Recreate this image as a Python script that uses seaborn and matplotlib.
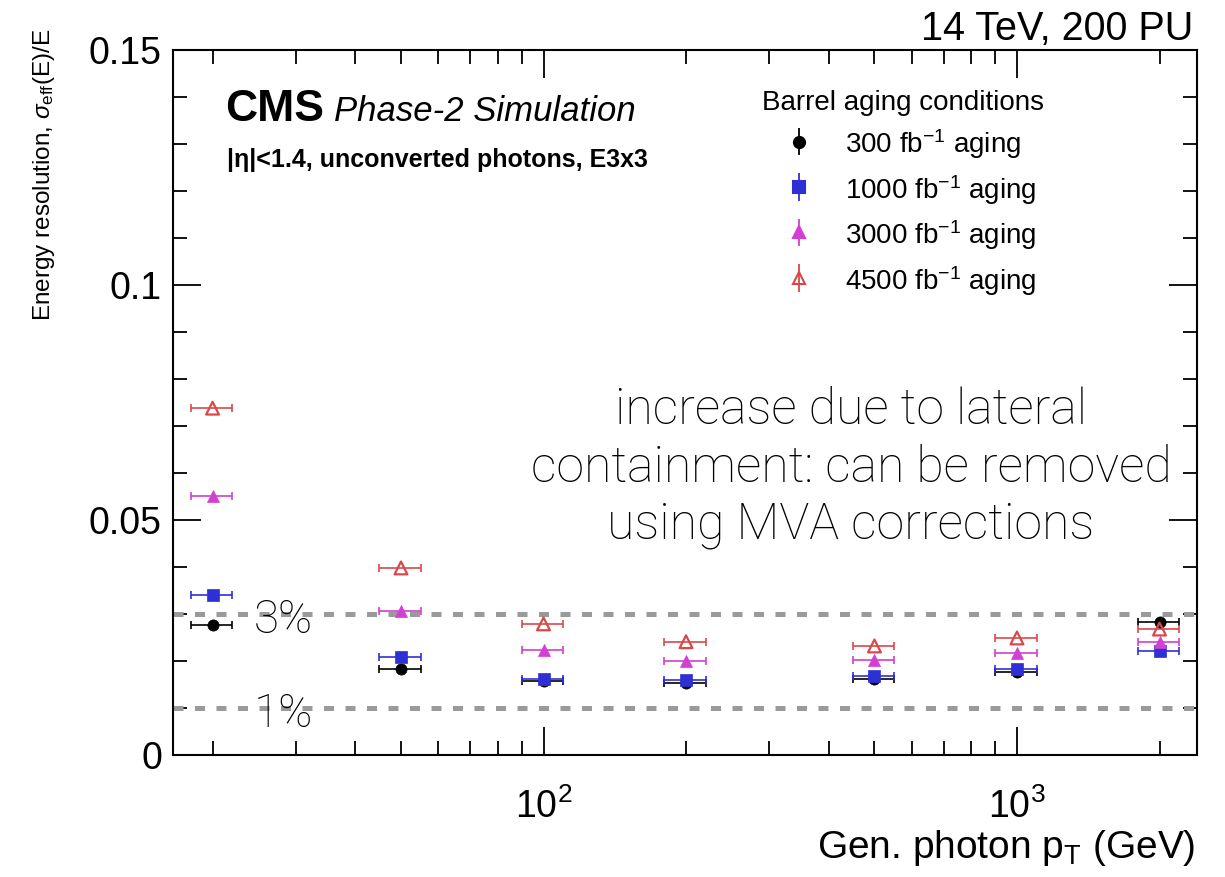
import numpy as np
import pandas as pd
import matplotlib
matplotlib.use("Agg")
import matplotlib.pyplot as plt
import seaborn as sns
from matplotlib.ticker import FixedLocator, NullFormatter, LogLocator

# ---------------- data ----------------
pt = [20, 50, 100, 200, 500, 1000, 2000]
pt_err = [2, 5, 10, 20, 50, 100, 200]
res_300 = [0.0276, 0.0182, 0.0157, 0.0154, 0.0161, 0.0176, 0.0282]
res_1000 = [0.0341, 0.0208, 0.0162, 0.0159, 0.0169, 0.0182, 0.0221]
res_3000 = [0.0551, 0.0307, 0.0224, 0.0200, 0.0203, 0.0216, 0.0241]
res_4500 = [0.0738, 0.0398, 0.0279, 0.0241, 0.0232, 0.0249, 0.0268]
labels = ["300 fb$^{-1}$ aging", "1000 fb$^{-1}$ aging",
          "3000 fb$^{-1}$ aging", "4500 fb$^{-1}$ aging"]
ref_levels = [0.03, 0.01]
ref_labels = ["3%", "1%"]
yticks = [0, 0.05, 0.1, 0.15]
ytick_labels = ["0", "0.05", "0.1", "0.15"]

series = [res_300, res_1000, res_3000, res_4500]
colors = ["#000000", "#2f2fd6", "#d23fd2", "#d94848"]
markers = ["o", "s", "^", "^"]
filled = [True, True, True, False]
msizes = [65, 65, 75, 85]

sns.set_theme(style="ticks")
plt.rcParams["font.family"] = ["Liberation Sans", "DejaVu Sans"]
plt.rcParams["mathtext.fontset"] = "custom"
plt.rcParams["mathtext.rm"] = "Liberation Sans"
plt.rcParams["mathtext.it"] = "Liberation Sans:italic"
plt.rcParams["mathtext.bf"] = "Liberation Sans:bold"
for k in ["text.color", "axes.labelcolor", "xtick.color", "ytick.color",
          "axes.edgecolor"]:
    plt.rcParams[k] = "black"

W, H = 1225, 877
fig = plt.figure(figsize=(W / 100, H / 100), dpi=100)
ax = fig.add_axes([173 / W, 1 - 755 / H, (1197 - 173) / W, (755 - 50) / H])

# reference lines
for lvl in ref_levels:
    ax.axhline(lvl, color="#9a9a9a", lw=3.6, ls=(0, (2.0, 2.3)), zorder=1)

for vals, col, mk, fl, ms in zip(series, colors, markers, filled, msizes):
    df = pd.DataFrame({"pt": pt, "res": vals})
    ax.errorbar(df["pt"], df["res"], xerr=pt_err, fmt="none", ecolor=col,
                elinewidth=1.4, capsize=3, capthick=1.4, zorder=2, alpha=0.85)
    if fl:
        sns.scatterplot(data=df, x="pt", y="res", ax=ax, color=col, marker=mk,
                        s=ms, edgecolor=col, linewidth=0.5, zorder=3)
    else:
        sns.scatterplot(data=df, x="pt", y="res", ax=ax, marker=mk, s=ms,
                        facecolor="none", edgecolor=col, linewidth=1.6, zorder=3)

ax.set_xscale("log")
ax.set_xlim(16.5, 2400)
ax.set_ylim(0, 0.15)
ax.set_xlabel("")
ax.set_ylabel("")

ax.set_yticks(yticks)
ax.set_yticklabels(ytick_labels)
ax.yaxis.set_minor_locator(FixedLocator(np.arange(0, 0.1501, 0.01)))
ax.xaxis.set_minor_locator(LogLocator(base=10, subs=np.arange(2, 10), numticks=20))
ax.xaxis.set_minor_formatter(NullFormatter())
ax.set_xticks([100, 1000])
ax.set_xticklabels(["$10^{2}$", "$10^{3}$"])

ax.tick_params(which="both", direction="in", top=True, right=True,
               color="black", width=1.3)
ax.tick_params(which="major", length=20, labelsize=27)
ax.tick_params(which="minor", length=10)
ax.tick_params(axis="y", which="major", pad=8)
ax.tick_params(axis="x", which="major", pad=24)
for sp in ax.spines.values():
    sp.set_linewidth(1.5)

# texts
fig.text(1193 / W, 1 - 40 / H, "14 TeV, 200 PU", ha="right", va="baseline",
         fontsize=28.5)
fig.text(44 / W, 1 - 28 / H, r"Energy resolution, $\sigma_{\rm eff}$(E)/E",
         rotation=90, ha="center", va="top", fontsize=17.5)
fig.text(1195 / W, 1 - 858 / H, "Gen. photon p$_{\\rm T}$ (GeV)", ha="right",
         va="baseline", fontsize=28)

fig.text(225 / W, 1 - 121 / H, "CMS", fontsize=32, fontweight="bold",
         ha="left", va="baseline")
fig.text(334 / W, 1 - 121 / H, "Phase-2 Simulation", fontsize=25,
         fontstyle="italic", ha="left", va="baseline")
fig.text(227 / W, 1 - 167 / H, "|η|<1.4, unconverted photons, E3x3",
         fontsize=18, fontweight="bold", ha="left", va="baseline")

light = ["Roboto", "Lato", "DejaVu Sans"]
fig.text(851 / W, 1 - 468 / H,
         "increase due to lateral\ncontainment: can be removed\nusing MVA corrections",
         ha="center", va="center", fontsize=36, fontweight="light",
         linespacing=1.26, family=light, color="black")
for lvl, lab, ty in zip(ref_levels, ref_labels, [620, 714]):
    fig.text(254 / W, 1 - ty / H, lab, ha="left", va="center", fontsize=33,
             fontweight="light", family=light, color="black")

# legend with vertical-error proxies
handles = []
for col, mk, fl in zip(colors, markers, filled):
    h = ax.errorbar([np.nan], [np.nan], yerr=[1], fmt=mk, color=col,
                    markersize=8, mfc=col if fl else "none", mec=col,
                    mew=1.5, elinewidth=1.3, capsize=0)
    handles.append(h)
leg = ax.legend(handles, labels, title="Barrel aging conditions",
                loc="upper left", bbox_to_anchor=(748 / W, 1 - 76 / H),
                bbox_transform=fig.transFigure, frameon=False, fontsize=20,
                title_fontsize=20, alignment="left", borderpad=0,
                handlelength=2.7, handletextpad=0.3, labelspacing=0.42,
                handleheight=1.2)

fig.savefig("out.png", dpi=100)
